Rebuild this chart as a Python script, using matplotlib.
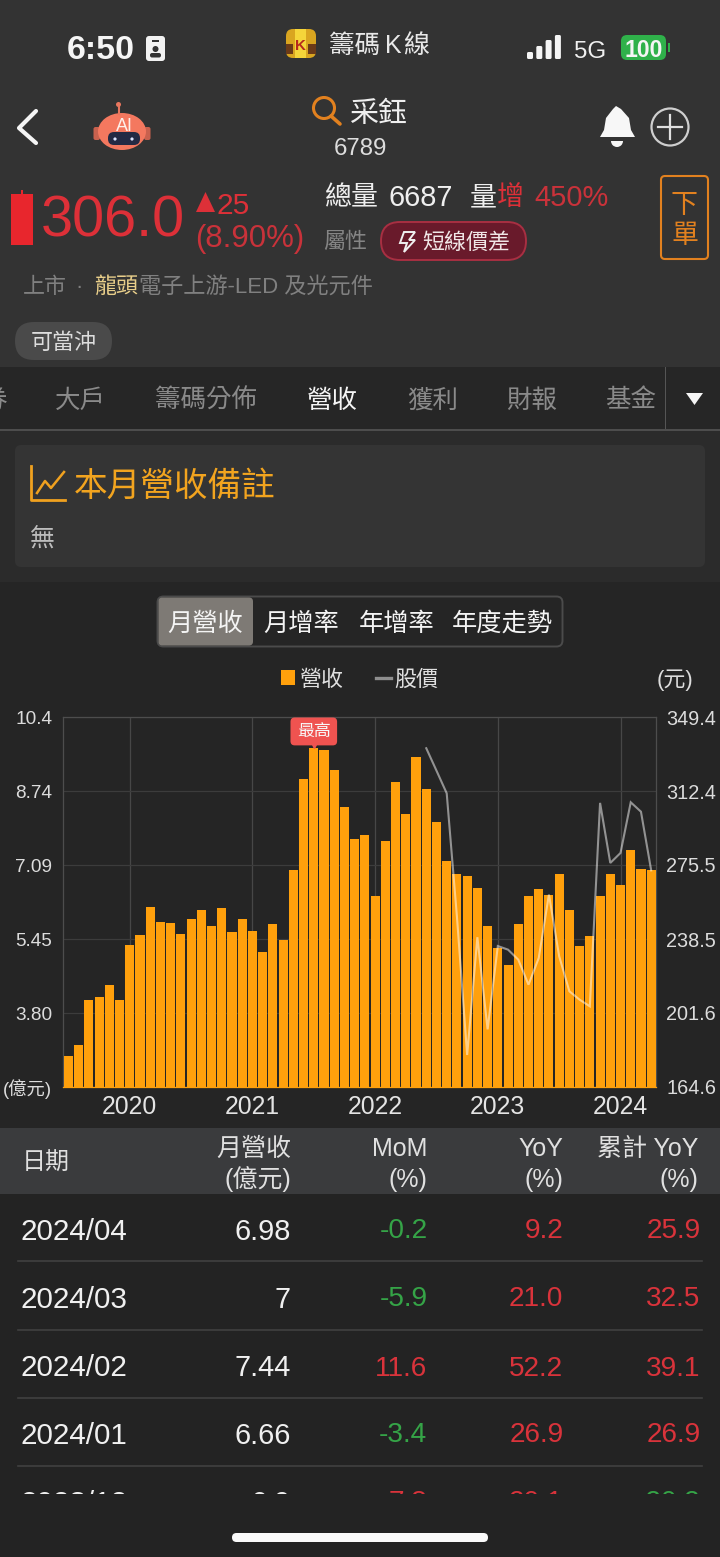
import numpy as np
import matplotlib
matplotlib.use("Agg")
import matplotlib.pyplot as plt
from matplotlib.patches import Rectangle, FancyBboxPatch, Circle, Ellipse, Polygon, Wedge
from matplotlib.lines import Line2D

plt.rcParams['font.family'] = ['Liberation Sans', 'Noto Sans CJK TC', 'DejaVu Sans']

# ---------- data ----------
revenue = [2.85, 3.09, 4.08, 4.15, 4.43, 4.10, 5.31, 5.54, 6.16, 5.82, 5.80, 5.56, 5.90, 6.10, 5.74,
           6.15, 5.60, 5.90, 5.62, 5.15, 5.79, 5.42, 6.98, 9.02, 9.70, 9.66, 9.21, 8.40, 7.69, 7.76,
           6.40, 7.64, 8.96, 8.23, 9.51, 8.80, 8.06, 7.20, 6.91, 6.85, 6.59, 5.75, 5.26, 4.88, 5.79,
           6.40, 6.56, 6.44, 6.91, 6.10, 5.30, 5.52, 6.40, 6.90, 6.66, 7.44, 7.00, 6.98]
price_start = 35
price_values = [333.8, 322.6, 311.3, 249.7, 180.6, 239.4, 193.4, 235.0, 233.2, 228.2, 215.7, 229.0,
                260.7, 229.9, 212.4, 208.2, 204.9, 306.5, 276.5, 281.5, 306.8, 302.1, 272.8]
left_ticks = [10.4, 8.74, 7.09, 5.45, 3.80, 2.15]
left_labels = ['10.4', '8.74', '7.09', '5.45', '3.80', '(億元)']
right_ticks = [349.4, 312.4, 275.5, 238.5, 201.6, 164.6]
year_positions = [6, 18, 30, 42, 54]
year_labels = ['2020', '2021', '2022', '2023', '2024']

table_dates = ['2024/04', '2024/03', '2024/02', '2024/01', '2023/12']
table_rev = ['6.98', '7', '7.44', '6.66', '6.9']
table_mom = [-0.2, -5.9, 11.6, -3.4, 7.8]
table_yoy = [9.2, 21.0, 52.2, 26.9, 20.1]
table_cum = [25.9, 32.5, 39.1, 26.9, -20.2]
tabs = ['券', '大戶', '籌碼分佈', '營收', '獲利', '財報', '基金']
segments = ['月營收', '月增率', '年增率', '年度走勢']

# ---------- colours ----------
ORANGE = '#FFA00C'; RED = '#D9333B'; GREEN = '#35A447'; UIOR = '#E2811F'

fig = plt.figure(figsize=(7.2, 15.57), dpi=100, facecolor='#252525')
W, H = 720, 1557

ui = fig.add_axes([0, 0, 1, 1], zorder=0)
ui.set_xlim(0, W); ui.set_ylim(H, 0); ui.axis('off')

def T(x, y, s, px, color='#e6e6e6', ha='left', **kw):
    return ui.text(x, y, s, fontsize=px * 0.72, color=color, ha=ha, va='center_baseline', **kw)

def R(x0, y0, x1, y1, color, **kw):
    ui.add_patch(Rectangle((x0, y0), x1 - x0, y1 - y0, fc=color, ec='none', **kw))

def RR(x0, y0, x1, y1, r, fc, ec='none', lw=0, **kw):
    ui.add_patch(FancyBboxPatch((x0 + r, y0 + r), x1 - x0 - 2 * r, y1 - y0 - 2 * r,
                                boxstyle=f'round,pad={r},rounding_size={r}',
                                fc=fc, ec=ec, lw=lw, **kw))

# background bands
R(0, 0, W, 367, '#333333')
R(0, 367, W, 429, '#262626')
R(0, 429, W, 431, '#4d4d4d')
R(0, 431, W, 582, '#2b2b2b')
R(0, 582, W, 1128, '#252525')
R(0, 1128, W, 1194, '#3a3b3d')
R(0, 1194, W, H, '#232323')

# status bar
T(67, 47, '6:50', 34, '#f5f5f5', fontweight='bold')
RR(146, 36, 165, 61, 3, '#f2f2f2')
R(152, 39.5, 159, 41.5, '#333333')
ui.add_patch(Circle((155.5, 49), 3, fc='#333333'))
RR(150, 53, 161, 57.5, 2, '#333333')
RR(286, 29, 316, 58, 7, '#D9A520')
R(295, 29, 306, 58, '#F5D53A')
R(286, 44, 293, 54, '#6B3A18'); R(308, 44, 316, 54, '#6B3A18')
T(300.5, 44, 'K', 15, '#B5281E', ha='center', fontweight='bold')
T(329, 43, '籌碼', 25.5, '#e8e8e8')
T(385, 43, 'K', 25, '#e8e8e8')
T(403, 43, '線', 26, '#e8e8e8')
for i, h in enumerate([7, 13, 19, 24]):
    RR(527 + i * 9.3, 59 - h, 533 + i * 9.3, 59, 1.5, '#f5f5f5')
T(574, 49, '5G', 24, '#f0f0f0')
RR(621, 35, 666, 60, 6, '#2FB14A')
R(667.5, 43, 669.5, 52, '#2FB14A')
T(643.5, 48, '100', 23, '#f5f5f5', ha='center', fontweight='bold')

# nav row
ui.plot([36, 19, 36], [111, 128, 143], color='#f5f5f5', lw=3, solid_capstyle='round', solid_joinstyle='round')
ui.plot([118.5, 118.5], [105, 114], color='#E8765E', lw=1.5)
ui.add_patch(Circle((118.5, 104.5), 2.5, fc='#E8765E'))
RR(93.5, 127, 100, 140, 2, '#C9614E'); RR(144, 127, 150.5, 140, 2, '#C9614E')
ui.add_patch(Ellipse((122, 131.5), 48, 37, fc='#F4785F'))
RR(108, 132, 140, 145, 6, '#242A44')
ui.add_patch(Circle((115, 139), 1.6, fc='#dfe6ff')); ui.add_patch(Circle((132, 139), 1.6, fc='#dfe6ff'))
T(124.5, 124, 'AI', 18, '#fff0ea', ha='center')
ui.add_patch(Circle((324, 108), 10.5, fc='none', ec=UIOR, lw=2.2))
ui.plot([331, 340], [116, 124], color=UIOR, lw=2.6, solid_capstyle='round')
T(349, 111, '采鈺', 29, '#efefef')
T(360, 146, '6789', 24, '#dddddd', ha='center')
ui.add_patch(Polygon([[600, 137], [604, 130], [606, 118], [613, 109], [616, 106], [621, 109],
                      [629, 118], [631, 130], [635, 137]], fc='#f7f7f7', ec='none'))
ui.add_patch(Wedge((617, 141), 6, 0, 180, fc='#f7f7f7', ec='none'))
ui.add_patch(Circle((670, 127), 18.5, fc='none', ec='#cfcfcf', lw=1.6))
ui.plot([658, 682], [127, 127], color='#e0e0e0', lw=1.6)
ui.plot([670, 670], [115, 139], color='#e0e0e0', lw=1.6)

# quote
R(11, 194, 33, 245, '#E8262D'); R(21, 190, 23, 194, '#E8262D')
T(41, 215, '306.0', 57.6, '#DD3038')
ui.add_patch(Polygon([[196, 212], [215, 212], [205.5, 192]], fc='#DD3038'))
T(217, 203, '25', 30, '#DD3038')
T(195, 235, '(8.90%)', 31.2, '#C9323A')
T(324, 195, '總量', 27, '#efefef')
T(389, 195, '6687', 29, '#efefef')
T(470, 195, '量', 27, '#efefef')
T(497, 195, '增', 27, '#DD3038')
T(534, 195, '450%', 29, '#C9323A')
T(323, 240, '屬性', 22, '#858585')
RR(381, 222, 526, 260, 19, '#691A2B', ec='#A82F42', lw=1.4)
ui.add_patch(Polygon([[404, 232], [415, 232], [409, 240], [415, 240], [404, 252], [407, 243], [400, 243]],
                     fc='none', ec='#f0f0f0', lw=1.4))
T(422, 241, '短線價差', 22, '#f0e6e6')
RR(661, 176, 708, 259, 4, 'none', ec=UIOR, lw=1.5)
T(684.5, 203, '下', 27, UIOR, ha='center')
T(684.5, 233, '單', 27, UIOR, ha='center')
T(23, 285, '上市', 22, '#808080')
T(79, 285, '·', 22, '#808080', ha='center')
T(94, 285, '龍頭', 22, '#E8CE8A')
T(139, 285, '電子上游-LED 及光元件', 22.2, '#808080')
RR(15, 322, 112, 360, 19, '#4a4a4a')
T(63.5, 341, '可當沖', 22, '#dddddd', ha='center')

# tabs
tab_x = [-19, 55, 155, 307, 407, 506, 605]
for x, s in zip(tab_x, tabs):
    T(x, 398, s, 25.5, '#f5f5f5' if s == '營收' else '#8a8a8a')
R(665, 367, 666, 429, '#555555')
ui.add_patch(Polygon([[686, 393], [703, 393], [694.5, 405]], fc='#f5f5f5'))

# note panel
RR(15, 445, 705, 567, 6, '#343434')
ui.plot([31, 31, 65], [466, 500, 500], color='#F0A11F', lw=2, solid_joinstyle='round')
ui.plot([37, 45, 51, 64], [493, 481, 488, 472], color='#F0A11F', lw=1.8)
T(74, 483, '本月營收備註', 33.7, '#F2A41F')
T(30, 536, '無', 25, '#bdbdbd')

# segmented control
RR(157.5, 596.5, 562.5, 646.5, 6, '#252525', ec='#4b4b4b', lw=1.4)
RR(158.5, 597.5, 253, 645.5, 4, '#7E7A75')
for cx, s in zip([205, 301, 397, 502.5], segments):
    T(cx, 621, s, 25.3, '#f4f4f4', ha='center')
T(693, 678, '(元)', 22, '#dddddd', ha='right')

# ---------- chart ----------
L, Rt, Tp, Bt = 63.3, 656.3, 717, 1087
ax = fig.add_axes([L / W, 1 - Bt / H, (Rt - L) / W, (Bt - Tp) / H], zorder=2)
ax.patch.set_alpha(0)
x = np.arange(len(revenue))
bars = ax.bar(x, revenue, width=0.89, color=ORANGE, zorder=3)
ax.set_xlim(-0.5, len(revenue) - 0.5)
ax.set_ylim(left_ticks[-1], left_ticks[0])
ax.set_yticks(left_ticks, left_labels)
ax.set_xticks(year_positions, year_labels)
ax.tick_params(axis='y', length=0, pad=8, labelsize=13.7, labelcolor='#dcdcdc')
ax.tick_params(axis='x', length=0, pad=5.8, labelsize=17.8, labelcolor='#e4e4e4')
ax.grid(axis='y', color='#3c3c3c', lw=0.9, zorder=0)
ax.grid(axis='x', color='#474747', lw=0.9, zorder=0)
ax.set_axisbelow(True)
for side in ['top', 'left', 'right']:
    ax.spines[side].set_color('#4d4d4d'); ax.spines[side].set_linewidth(0.9)
ax.spines['bottom'].set_color(ORANGE); ax.spines['bottom'].set_linewidth(0.9)
ax.get_yticklabels()[-1].set_fontsize(13.2)

peak = int(np.argmax(revenue))
ax.annotate('最高', xy=(peak, revenue[peak]), xytext=(0, 12.2), textcoords='offset points',
            ha='center', va='center', fontsize=12.2, color='#f8f8f8', zorder=6,
            bbox=dict(boxstyle='round,pad=0.38,rounding_size=0.25', fc='#EF5350', ec='none'))
ax.plot([peak], [revenue[peak] + 0.07], marker='v', ms=4, color='#EF5350', ls='none', zorder=5)

ax2 = ax.twinx()
ax2.set_zorder(3); ax2.patch.set_alpha(0)
ax2.set_ylim(right_ticks[-1], right_ticks[0])
ax2.set_yticks(right_ticks, [f'{v:.1f}' for v in right_ticks])
ax2.tick_params(axis='y', length=0, pad=7.2, labelsize=14.3, labelcolor='#dcdcdc')
for sp in ax2.spines.values():
    sp.set_visible(False)
price_x = x[price_start:price_start + len(price_values)]
line, = ax2.plot(price_x, price_values, color='white', alpha=0.5, lw=1.5, solid_joinstyle='miter')

leg = ax2.legend([bars, Line2D([0], [0], color='#8e8e8e', lw=2.4)], ['營收', '股價'],
                 ncol=2, frameon=False, loc='center', bbox_to_anchor=(359.5 / W, 1 - 680 / H),
                 bbox_transform=fig.transFigure, fontsize=15.84, handlelength=0.66, handleheight=0.66,
                 handletextpad=0.18, columnspacing=1.5, labelcolor='#e0e0e0', borderpad=0, borderaxespad=0)

# ---------- table ----------
T(22, 1161, '日期', 24, '#e0e0e0')
head_right = [291, 427, 563, 698]
head_top = ['月營收', 'MoM', 'YoY', '累計 YoY']
head_bot = ['(億元)', '(%)', '(%)', '(%)']
for xr, a, b in zip(head_right, head_top, head_bot):
    T(xr, 1146, a, 25, '#e0e0e0', ha='right')
    T(xr, 1177, b, 25, '#e0e0e0', ha='right')

row_y = [1228.5, 1296.5, 1365.5, 1432.5, 1500.5]
def col(v):
    return RED if v > 0 else GREEN
for i, y in enumerate(row_y):
    T(20, y, table_dates[i], 29.6, '#f0f0f0')
    T(291, y, table_rev[i], 29, '#f0f0f0', ha='right')
    T(427.5, y, f'{table_mom[i]:.1f}', 28, col(table_mom[i]), ha='right')
    T(563.5, y, f'{table_yoy[i]:.1f}', 28, col(table_yoy[i]), ha='right')
    T(700.5, y, f'{table_cum[i]:.1f}', 28, col(table_cum[i]), ha='right')
for y in [1261, 1330, 1398, 1466]:
    ui.plot([18, 702], [y, y], color='#404040', lw=1.2)
R(0, 1494, W, H, '#232323', zorder=5)
RR(232, 1533, 488, 1542, 4.5, '#fafafa', zorder=6)

fig.savefig('out.png', dpi=100, facecolor=fig.get_facecolor())
